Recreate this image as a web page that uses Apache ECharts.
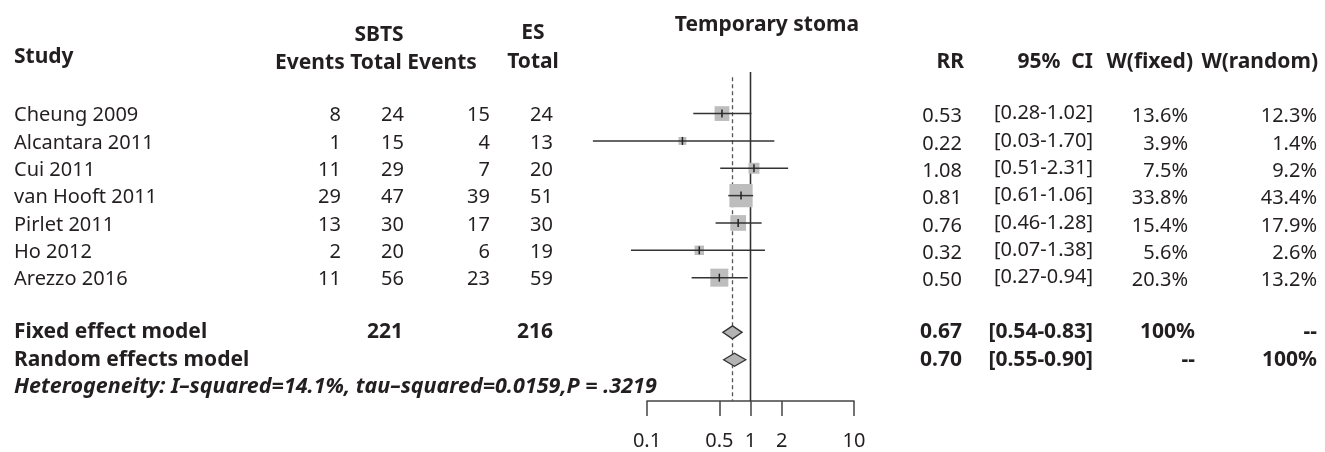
<!DOCTYPE html>
<html><head><meta charset="utf-8">
<script src="https://cdn.jsdelivr.net/npm/echarts@6/dist/echarts.min.js"></script>
<style>html,body{margin:0;padding:0;background:#fff}#c{width:1325px;height:452px}</style>
</head><body><div id="c"></div>
<script>
// ---------- data ----------
const studies = ['Cheung 2009','Alcantara 2011','Cui 2011','van Hooft 2011','Pirlet 2011','Ho 2012','Arezzo 2016'];
const sbtsEvents = [8,1,11,29,13,2,11];
const sbtsTotal = [24,15,29,47,30,20,56];
const esEvents = [15,4,7,39,17,6,23];
const esTotal = [24,13,20,51,30,19,59];
const rr = [0.53,0.22,1.08,0.81,0.76,0.32,0.50];
const ciLow = [0.28,0.03,0.51,0.61,0.46,0.07,0.27];
const ciHigh = [1.02,1.70,2.31,1.06,1.28,1.38,0.94];
const wFixed = [13.6,3.9,7.5,33.8,15.4,5.6,20.3];
const wRandom = [12.3,1.4,9.2,43.4,17.9,2.6,13.2];
const pooledLabels = ['Fixed effect model','Random effects model'];
const pooledRR = [0.67,0.70];
const pooledLow = [0.54,0.55];
const pooledHigh = [0.83,0.90];
const pooledSbtsTotal = [221];
const pooledEsTotal = [216];
const pooledWFixed = ['100%','--'];
const pooledWRandom = ['--','100%'];
const heterogeneity = ['Heterogeneity: I\u2013squared=14.1%, tau\u2013squared=0.0159,P = .3219'];
const xTicks = [0.1,0.5,1,2,10];
const title = 'Temporary stoma';

// ---------- layout ----------
const TEXT = '#231f20';
const FONT = 'Noto Sans';
const Y_MIN = -1.52, Y_MAX = 10.51;
const studyRows = studies.map((_, i) => i);
const pooledRows = [8, 9];
const hetRow = [10];

function textSeries(texts, xPx, rows, o) {
  o = o || {};
  return {
    type: 'custom', xAxisIndex: 1, yAxisIndex: 1, silent: true, clip: false, z: 5,
    data: rows.map(r => [xPx, r]),
    renderItem: (params, api) => {
      const p = api.coord([api.value(0), api.value(1)]);
      return {type: 'text', x: p[0], y: p[1] + (o.dy || 0), style: {
        text: String(texts[params.dataIndex]), align: o.align || 'right', verticalAlign: 'middle',
        fontFamily: FONT, fontSize: o.size || (o.bold ? 21 : 20), fontWeight: o.bold ? 'bold' : 'normal',
        fontStyle: o.italic ? 'italic' : 'normal', fill: TEXT}};
    }
  };
}
function hdr(text, x, y, align) {
  return {type: 'text', x: x, y: y, style: {text: text, align: align || 'center', verticalAlign: 'middle',
    fontFamily: FONT, fontSize: 21, fontWeight: 'bold', fill: TEXT}};
}

const chart = echarts.init(document.getElementById('c'));
const option = {
  animation: false,
  backgroundColor: '#fff',
  textStyle: {fontFamily: FONT},
  grid: [
    {left: 647, width: 207, top: 72, height: 329},
    {left: 0, width: 1325, top: 72, height: 329}
  ],
  xAxis: [
    {type: 'log', logBase: 10, gridIndex: 0, min: 0.1, max: 10, position: 'bottom',
     axisLine: {show: true, onZero: false, lineStyle: {color: '#444', width: 1.5}},
     axisTick: {show: true, customValues: xTicks, length: 15, lineStyle: {color: '#444', width: 1.5}},
     axisLabel: {customValues: xTicks, margin: 30, fontSize: 20, color: TEXT, fontFamily: FONT,
       formatter: v => String(+(+v).toPrecision(2))},
     splitLine: {show: false}, minorTick: {show: false}},
    {type: 'value', gridIndex: 1, min: 0, max: 1325, show: false}
  ],
  yAxis: [
    {type: 'value', gridIndex: 0, inverse: true, min: Y_MIN, max: Y_MAX, show: false},
    {type: 'value', gridIndex: 1, inverse: true, min: Y_MIN, max: Y_MAX, show: false}
  ],
  graphic: [
    hdr(title, 767, 25),
    hdr('Study', 14, 57, 'left'),
    hdr('SBTS', 379, 35),
    hdr('Events Total Events', 376, 63),
    hdr('ES', 533, 33),
    hdr('Total', 533, 62),
    hdr('RR', 964, 62, 'right'),
    hdr('95%  CI', 1093, 62, 'right'),
    hdr('W(fixed)', 1193, 62, 'right'),
    hdr('W(random)', 1318, 62, 'right')
  ],
  series: [
    // reference line at 1
    {type: 'custom', xAxisIndex: 0, yAxisIndex: 0, clip: false, silent: true, z: 2,
     data: [[1]],
     renderItem: (params, api) => {
       const a = api.coord([api.value(0), Y_MIN]);
       const b = api.coord([api.value(0), Y_MAX]);
       return {type: 'line', shape: {x1: a[0], y1: a[1], x2: b[0], y2: b[1]}, style: {stroke: '#333', lineWidth: 1.6}};
     }},
    // dashed pooled line
    {type: 'custom', xAxisIndex: 0, yAxisIndex: 0, clip: false, silent: true, z: 2,
     data: [[pooledRR[0]]],
     renderItem: (params, api) => {
       const a = api.coord([api.value(0), -1.33]);
       const b = api.coord([api.value(0), Y_MAX]);
       return {type: 'line', shape: {x1: a[0], y1: a[1], x2: b[0], y2: b[1]}, style: {stroke: '#555', lineWidth: 1.3, lineDash: [4, 3]}};
     }},
    // study boxes + CI
    {type: 'custom', xAxisIndex: 0, yAxisIndex: 0, clip: false, silent: true, z: 3,
     data: studies.map((_, i) => [ciLow[i], ciHigh[i], studyRows[i], rr[i], wFixed[i]]),
     renderItem: (params, api) => {
       const row = api.value(2);
       const a = api.coord([api.value(0), row]);
       const b = api.coord([api.value(1), row]);
       const c = api.coord([api.value(3), row]);
       const s = 4 * Math.sqrt(api.value(4));
       return {type: 'group', children: [
         {type: 'rect', shape: {x: c[0] - s / 2, y: c[1] - s / 2, width: s, height: s}, style: {fill: '#bdbdbd'}},
         {type: 'line', shape: {x1: a[0], y1: a[1], x2: b[0], y2: b[1]}, style: {stroke: '#333', lineWidth: 1.5}},
         {type: 'line', shape: {x1: c[0], y1: c[1] - 4, x2: c[0], y2: c[1] + 4}, style: {stroke: '#222', lineWidth: 1.5}}
       ]};
     }},
    // diamonds
    {type: 'custom', xAxisIndex: 0, yAxisIndex: 0, clip: false, silent: true, z: 3,
     data: pooledRR.map((v, i) => [pooledLow[i], pooledHigh[i], pooledRows[i], v]),
     renderItem: (params, api) => {
       const row = api.value(2);
       const l = api.coord([api.value(0), row]);
       const r = api.coord([api.value(1), row]);
       const c = api.coord([api.value(3), row]);
       const h = 6.5;
       return {type: 'polygon', shape: {points: [[l[0], l[1]], [c[0], c[1] - h], [r[0], r[1]], [c[0], c[1] + h]]},
         style: {fill: '#b3b3b3', stroke: '#333', lineWidth: 1.3}};
     }},
    // left text
    textSeries(studies, 14, studyRows, {align: 'left', dy: 2}),
    textSeries(pooledLabels, 14, pooledRows, {align: 'left', bold: true, dy: 0}),
    textSeries(heterogeneity, 14, hetRow, {align: 'left', bold: true, italic: true, size: 21.5, dy: 0}),
    textSeries(sbtsEvents, 341, studyRows, {dy: 2}),
    textSeries(sbtsTotal, 404, studyRows, {dy: 2}),
    textSeries(esEvents, 490, studyRows, {dy: 2}),
    textSeries(esTotal, 553, studyRows, {dy: 2}),
    textSeries(pooledSbtsTotal, 403, [pooledRows[0]], {bold: true}),
    textSeries(pooledEsTotal, 553, [pooledRows[0]], {bold: true}),
    // right text
    textSeries(rr.map(v => v.toFixed(2)), 962, studyRows, {dy: 3}),
    textSeries(ciLow.map((v, i) => '[' + v.toFixed(2) + '-' + ciHigh[i].toFixed(2) + ']'), 1093, studyRows, {dy: 0}),
    textSeries(wFixed.map(v => v.toFixed(1) + '%'), 1188, studyRows, {dy: 3}),
    textSeries(wRandom.map(v => v.toFixed(1) + '%'), 1317, studyRows, {dy: 3}),
    textSeries(pooledRR.map(v => v.toFixed(2)), 962, pooledRows, {bold: true}),
    textSeries(pooledLow.map((v, i) => '[' + v.toFixed(2) + '-' + pooledHigh[i].toFixed(2) + ']'), 1093, pooledRows, {bold: true}),
    textSeries(pooledWFixed, 1195, pooledRows, {bold: true}),
    textSeries(pooledWRandom, 1317, pooledRows, {bold: true})
  ]
};
chart.setOption(option);
</script>
</body></html>
